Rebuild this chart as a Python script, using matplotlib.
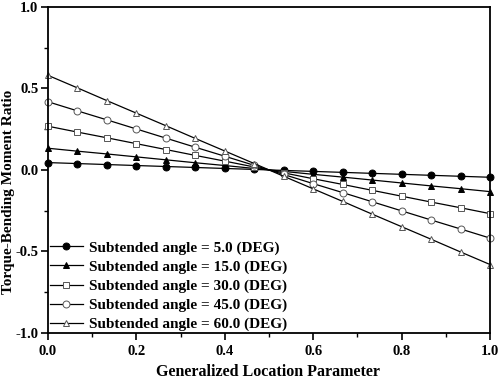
import matplotlib
matplotlib.use('Agg')
import matplotlib.pyplot as plt
from matplotlib.ticker import MultipleLocator

plt.rcParams['font.family'] = ['Liberation Serif', 'DejaVu Serif']
plt.rcParams['font.weight'] = 'bold'
plt.rcParams['axes.unicode_minus'] = False

# generalized location parameter, 16 stations
loc = [0.0, 0.0667, 0.1333, 0.2, 0.2667, 0.3333, 0.4, 0.4667,
       0.5333, 0.6, 0.6667, 0.7333, 0.8, 0.8667, 0.9333, 1.0]

ratio_5 = [0.045, 0.039, 0.033, 0.027, 0.021, 0.015, 0.009, 0.003,
           -0.003, -0.009, -0.015, -0.021, -0.027, -0.033, -0.039, -0.045]
ratio_15 = [0.133, 0.115, 0.098, 0.080, 0.062, 0.044, 0.027, 0.009,
            -0.009, -0.027, -0.044, -0.062, -0.080, -0.098, -0.115, -0.133]
ratio_30 = [0.268, 0.232, 0.197, 0.161, 0.125, 0.089, 0.054, 0.018,
            -0.018, -0.054, -0.089, -0.125, -0.161, -0.197, -0.232, -0.268]
ratio_45 = [0.418, 0.362, 0.307, 0.251, 0.195, 0.139, 0.084, 0.028,
            -0.028, -0.084, -0.139, -0.195, -0.251, -0.307, -0.362, -0.418]
ratio_60 = [0.580, 0.503, 0.425, 0.348, 0.271, 0.193, 0.116, 0.039,
            -0.039, -0.116, -0.193, -0.271, -0.348, -0.425, -0.503, -0.580]

labels = ['Subtended angle = 5.0 (DEG)', 'Subtended angle = 15.0 (DEG)',
          'Subtended angle = 30.0 (DEG)', 'Subtended angle = 45.0 (DEG)',
          'Subtended angle = 60.0 (DEG)']

fig = plt.figure(figsize=(5.0, 3.81), dpi=100)
ax = fig.add_axes([0.096, 0.126, 0.884, 0.856])

series = [ratio_5, ratio_15, ratio_30, ratio_45, ratio_60]
markers = ['o', '^', 's', 'o', '^']
fills = ['black', 'black', 'white', 'white', 'white']
edges = ['black', 'black', '#555555', '#555555', '#555555']
for ys, m, fc, ec, lab in zip(series, markers, fills, edges, labels):
    ax.plot(loc, ys, color='black', lw=0.9, marker=m, markersize=5,
            markerfacecolor=fc, markeredgecolor=ec, markeredgewidth=0.7,
            label=lab, clip_on=False)

ax.set_xlim(0, 1)
ax.set_ylim(-1, 1)
ax.xaxis.set_major_locator(MultipleLocator(0.2))
ax.xaxis.set_minor_locator(MultipleLocator(0.1))
ax.yaxis.set_major_locator(MultipleLocator(0.5))
ax.yaxis.set_minor_locator(MultipleLocator(0.25))
ax.tick_params(which='major', direction='out', length=5, width=1.2,
               labelsize=10.5, top=False, right=False)
ax.tick_params(which='minor', direction='out', length=3, width=1.0,
               top=False, right=False)
ax.tick_params(axis='y', pad=2)
for lbl in ax.get_xticklabels() + ax.get_yticklabels():
    lbl.set_fontweight('bold')
for sp in ax.spines.values():
    sp.set_linewidth(1.3)

ax.set_xlabel('Generalized Location Parameter', fontsize=11.5,
              fontweight='bold')
ax.set_ylabel('Torque-Bending Moment Ratio', fontsize=11,
              fontweight='bold')
ax.xaxis.set_label_coords(0.498, -0.12)
ax.yaxis.set_label_coords(-0.09, 0.432)
ax.xaxis.label.set_va('center')
ax.yaxis.label.set_va('center')

ax.legend(loc='lower left', frameon=False, handlelength=2.2,
          handletextpad=0.4, labelspacing=0.35, borderaxespad=0.0,
          borderpad=0.1, prop={'weight': 'bold', 'size': 11})

fig.savefig('out.png', dpi=100)
